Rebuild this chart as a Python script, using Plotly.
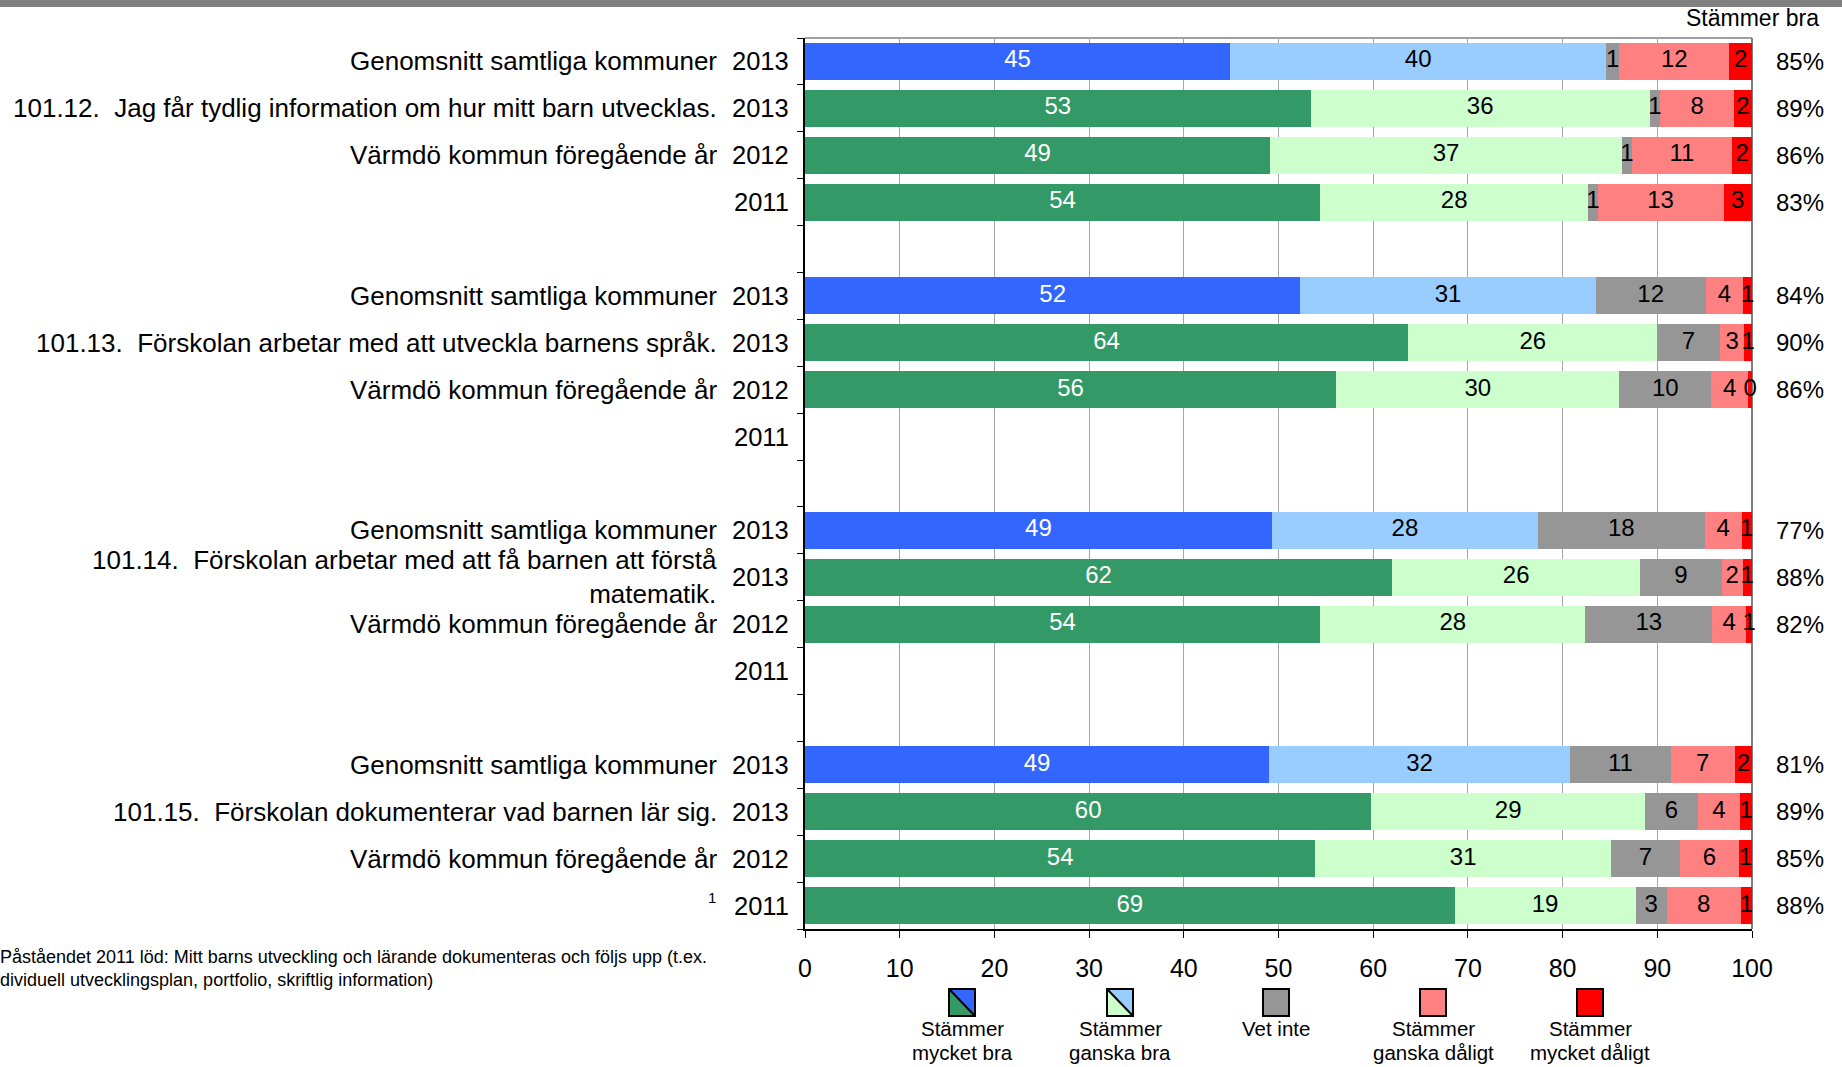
import plotly.graph_objects as go

# ---------------- data ----------------
row_labels = [
    "Genomsnitt samtliga kommuner",
    "101.12.\u00a0 Jag får tydlig information om hur mitt barn utvecklas.",
    "Värmdö kommun föregående år",
    "",
    "",
    "Genomsnitt samtliga kommuner",
    "101.13.\u00a0 Förskolan arbetar med att utveckla barnens språk.",
    "Värmdö kommun föregående år",
    "",
    "",
    "Genomsnitt samtliga kommuner",
    "101.14.\u00a0 Förskolan arbetar med att få barnen att förstå<br>matematik.",
    "Värmdö kommun föregående år",
    "",
    "",
    "Genomsnitt samtliga kommuner",
    "101.15.\u00a0 Förskolan dokumenterar vad barnen lär sig.",
    "Värmdö kommun föregående år",
    "",
]
row_years = ["2013", "2013", "2012", "2011", "",
             "2013", "2013", "2012", "2011", "",
             "2013", "2013", "2012", "2011", "",
             "2013", "2013", "2012", "2011"]
is_average = [True, False, False, False, False,
              True, False, False, False, False,
              True, False, False, False, False,
              True, False, False, False]

mycket_bra    = [44.9, 53.4, 49.1, 54.4, None, 52.3, 63.7, 56.1, None, None, 49.3, 62.0, 54.4, None, None, 49.0, 59.8, 53.9, 68.6]
ganska_bra    = [39.7, 35.8, 37.2, 28.3, None, 31.2, 26.3, 29.9, None, None, 28.1, 26.2, 28.0, None, None, 31.8, 28.9, 31.2, 19.1]
vet_inte      = [1.4, 1.1, 1.0, 1.0, None, 11.6, 6.6, 9.7, None, None, 17.6, 8.6, 13.4, None, None, 10.6, 5.6, 7.3, 3.3]
ganska_daligt = [11.6, 7.8, 10.6, 13.3, None, 4.0, 2.6, 3.9, None, None, 3.9, 2.2, 3.6, None, None, 6.8, 4.4, 6.2, 7.8]
mycket_daligt = [2.4, 1.9, 2.1, 3.0, None, 0.9, 0.8, 0.4, None, None, 1.1, 1.0, 0.6, None, None, 1.8, 1.3, 1.4, 1.2]
stammer_bra   = [85, 89, 86, 83, None, 84, 90, 86, None, None, 77, 88, 82, None, None, 81, 89, 85, 88]

series_names = ["Stämmer mycket bra", "Stämmer ganska bra", "Vet inte",
                "Stämmer ganska dåligt", "Stämmer mycket dåligt"]
legend_line1 = ["Stämmer", "Stämmer", "Vet inte", "Stämmer", "Stämmer"]
legend_line2 = ["mycket bra", "ganska bra", "", "ganska dåligt", "mycket dåligt"]
x_ticks = [0, 10, 20, 30, 40, 50, 60, 70, 80, 90, 100]
footnote_lines = [
    "Påståendet 2011 löd: Mitt barns utveckling och lärande dokumenteras och följs upp (t.ex.",
    "dividuell utvecklingsplan, portfolio, skriftlig information)",
]

# ---------------- styles ----------------
FONT = "Liberation Sans, Arial, sans-serif"
C_BLUE, C_LBLUE = "#3366FF", "#99CCFF"
C_GREEN, C_LGREEN = "#339966", "#CCFFCC"
C_GRAY, C_SALMON, C_RED = "#969696", "#FF8080", "#FF0000"

W, H = 1842, 1067
L, R, T, B = 805, 1752, 38, 929


def px(xp):
    return (xp - L) / (R - L)


def py(yp):
    return (B - yp) / (B - T)


fig = go.Figure()

all_series = [mycket_bra, ganska_bra, vet_inte, ganska_daligt, mycket_daligt]
n = len(row_years)
cum = [0.0] * n
lab_x, lab_y, lab_t, lab_c = [], [], [], []
for si, (name, vals) in enumerate(zip(series_names, all_series)):
    xs, ys, cols = [], [], []
    for i, v in enumerate(vals):
        if v is None:
            continue
        xs.append(v)
        ys.append(i)
        if si == 0:
            cols.append(C_BLUE if is_average[i] else C_GREEN)
        elif si == 1:
            cols.append(C_LBLUE if is_average[i] else C_LGREEN)
        else:
            cols.append([None, None, C_GRAY, C_SALMON, C_RED][si])
        lab_x.append(cum[i] + v / 2)
        lab_y.append(i)
        lab_t.append(f"{round(v):d}")
        lab_c.append("white" if si == 0 else "black")
        cum[i] += v
    fig.add_trace(go.Bar(
        x=xs, y=ys, orientation="h", name=name,
        marker=dict(color=cols, line=dict(width=0)),
        showlegend=False, hoverinfo="x+name",
    ))

# value labels on the segments
fig.add_trace(go.Scatter(
    x=lab_x, y=lab_y, mode="text", text=lab_t,
    textposition="middle center",
    textfont=dict(family=FONT, size=24, color=lab_c),
    cliponaxis=False, showlegend=False, hoverinfo="skip",
))

annotations = []
for i in range(n):
    if row_labels[i]:
        annotations.append(dict(
            x=px(719), xref="paper", y=i, yref="y", text=row_labels[i],
            xanchor="right", yanchor="middle", align="right", showarrow=False,
            font=dict(family=FONT, size=26, color="black")))
    if row_years[i]:
        annotations.append(dict(
            x=px(791), xref="paper", y=i, yref="y", text=row_years[i],
            xanchor="right", yanchor="middle", showarrow=False,
            font=dict(family=FONT, size=25.5, color="black")))
    if stammer_bra[i] is not None:
        annotations.append(dict(
            x=px(1800), xref="paper", y=i, yref="y", text=f"{stammer_bra[i]}%",
            xanchor="center", yanchor="middle", showarrow=False,
            font=dict(family=FONT, size=24, color="black")))

annotations.append(dict(
    x=px(1821), xref="paper", y=py(18), yref="paper", text="Stämmer bra",
    xanchor="right", yanchor="middle", showarrow=False,
    font=dict(family=FONT, size=23, color="black")))
annotations.append(dict(
    x=px(718), xref="paper", y=py(897), yref="paper", text="1",
    xanchor="right", yanchor="middle", showarrow=False,
    font=dict(family=FONT, size=15, color="black")))
for k, line in enumerate(footnote_lines):
    annotations.append(dict(
        x=px(-2), xref="paper", y=py(957 + 23 * k), yref="paper", text=line,
        xanchor="left", yanchor="middle", showarrow=False, align="left",
        font=dict(family=FONT, size=18, color="black")))

shapes = []
# top grey band
shapes.append(dict(type="rect", xref="paper", yref="paper",
                   x0=px(0), x1=px(W), y0=py(0), y1=py(7),
                   fillcolor="#808080", line=dict(width=0)))
# top border and right border of the plot area
shapes.append(dict(type="line", xref="paper", yref="paper", layer="below",
                   x0=0, x1=1, y0=1, y1=1, line=dict(color="#A0A0A0", width=2)))
shapes.append(dict(type="line", xref="paper", yref="paper", layer="below",
                   x0=1, x1=1, y0=0, y1=1, line=dict(color="#808080", width=2)))

# legend
legend_cx = [962, 1120, 1276, 1433, 1590]
legend_fill = [(C_BLUE, C_GREEN), (C_LBLUE, C_LGREEN), (C_GRAY, None),
               (C_SALMON, None), (C_RED, None)]
bw, by0, by1 = 26, 989, 1016
for cx, (c1, c2), l1, l2 in zip(legend_cx, legend_fill, legend_line1, legend_line2):
    x0, x1 = px(cx - bw / 2), px(cx + bw / 2)
    ya, yb = py(by0), py(by1)
    if c2 is None:
        shapes.append(dict(type="rect", xref="paper", yref="paper",
                           x0=x0, x1=x1, y0=yb, y1=ya, fillcolor=c1,
                           line=dict(color="black", width=2)))
    else:
        shapes.append(dict(type="path", xref="paper", yref="paper",
                           path=f"M {x0} {ya} L {x1} {ya} L {x1} {yb} Z",
                           fillcolor=c1, line=dict(width=0)))
        shapes.append(dict(type="path", xref="paper", yref="paper",
                           path=f"M {x0} {ya} L {x0} {yb} L {x1} {yb} Z",
                           fillcolor=c2, line=dict(width=0)))
        shapes.append(dict(type="line", xref="paper", yref="paper",
                           x0=x0, y0=ya, x1=x1, y1=yb,
                           line=dict(color="black", width=2)))
        shapes.append(dict(type="rect", xref="paper", yref="paper",
                           x0=x0, x1=x1, y0=yb, y1=ya,
                           line=dict(color="black", width=2)))
    for text, yy in ((l1, 1028), (l2, 1052)):
        if text:
            annotations.append(dict(
                x=px(cx), xref="paper", y=py(yy), yref="paper", text=text,
                xanchor="center", yanchor="middle", showarrow=False,
                font=dict(family=FONT, size=20.5, color="black")))

boundaries = [i - 0.5 for i in range(n + 1)]

fig.update_layout(
    width=W, height=H,
    margin=dict(l=L, r=W - R, t=T, b=H - B, pad=0),
    paper_bgcolor="white", plot_bgcolor="white",
    barmode="stack", bargap=0.21,
    font=dict(family=FONT, color="black"),
    xaxis=dict(range=[0, 100], tickvals=x_ticks, showgrid=True,
               gridcolor="#A6A6A6", gridwidth=1, zeroline=False,
               showline=True, linecolor="black", linewidth=2,
               ticks="outside", ticklen=7, tickcolor="black",
               ticklabelstandoff=9,
               tickfont=dict(family=FONT, size=25, color="black")),
    yaxis=dict(range=[n - 0.5, -0.5], tickvals=boundaries,
               ticktext=["" for _ in boundaries], showgrid=False,
               zeroline=False, showline=True, linecolor="black", linewidth=2,
               ticks="outside", ticklen=6, tickcolor="black"),
    annotations=annotations, shapes=shapes,
)

fig.write_html("out.html",
               config={"displayModeBar": False},
               post_script="document.body.style.margin='0px';"
                           "document.body.style.padding='0px';"
                           "document.body.style.overflow='hidden';")
